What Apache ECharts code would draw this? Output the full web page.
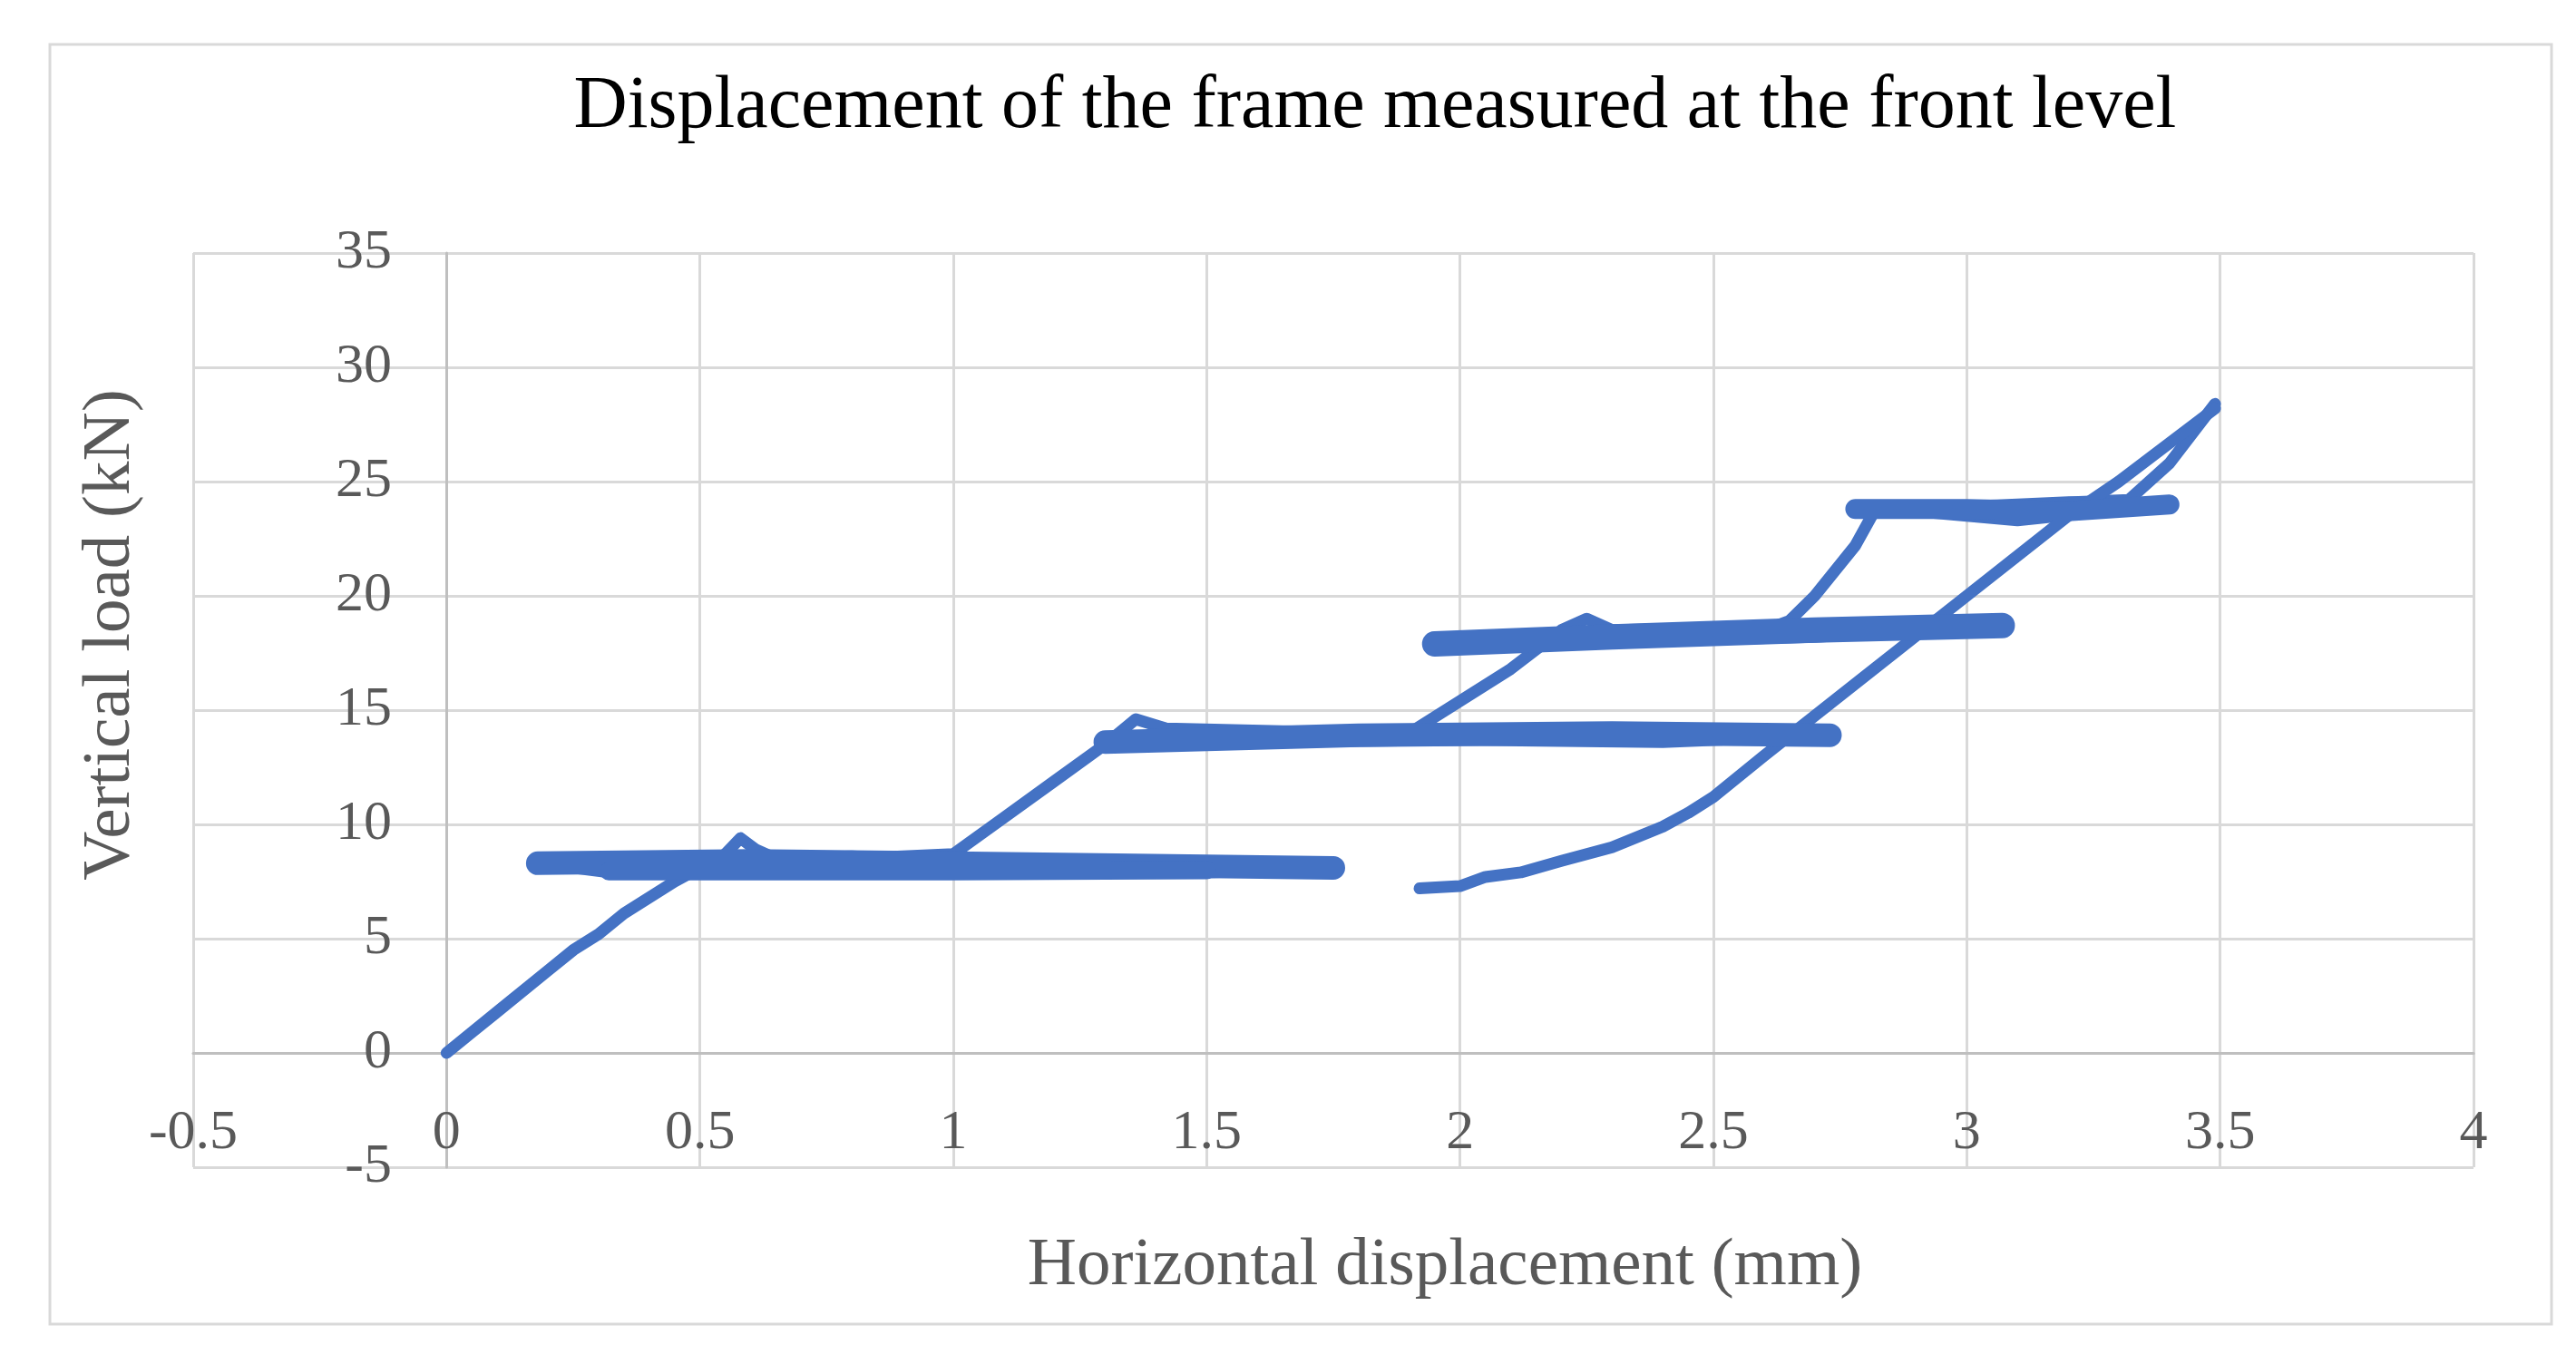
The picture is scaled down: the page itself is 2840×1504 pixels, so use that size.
<!DOCTYPE html><html><head><meta charset="utf-8">
<script src="https://cdn.jsdelivr.net/npm/echarts@6/dist/echarts.min.js"></script>
<style>html,body{margin:0;background:#fff}#c{width:2840px;height:1504px}</style></head><body><div id="c"></div>
<script>
const xTicks=[-0.5,0,0.5,1,1.5,2,2.5,3,3.5,4];
const yTicks=[-5,0,5,10,15,20,25,30,35];
// main load path [displacement mm, load kN]
const pathMain=[[0,0],[0.05,0.9],[0.1,1.8],[0.2,3.6],[0.25,4.5],[0.3,5.2],[0.35,6.1],[0.45,7.5],[0.55,8.7],[0.58,9.4],[0.61,8.9],[0.65,8.5],
[0.8,8.6],[1.0,8.4],[1.3,8.2],[1.5,8.1],[1.75,8.1],[1.5,7.9],[1.0,7.9],[0.6,7.9],[0.32,7.9],[0.18,8.3],[0.5,8.4],[0.8,8.5],[1.0,8.7],
[1.1,10.3],[1.2,11.9],[1.3,13.5],[1.36,14.6],[1.42,14.2],[1.8,14.0],[2.2,14.1],[2.5,14.0],[2.73,13.9],[2.4,13.6],[2.0,13.7],[1.6,13.6],[1.3,13.4],[1.45,14.0],[1.9,14.0],
[2.0,15.4],[2.1,16.8],[2.2,18.5],[2.25,19.0],[2.3,18.5],[2.6,18.6],[2.9,18.7],[3.07,18.7],[2.7,18.2],[2.3,18.0],[1.95,17.8],[2.2,18.2],[2.6,18.5],[2.65,18.9],
[2.7,20.0],[2.78,22.2],[2.82,23.8],[3.0,23.9],[3.2,24.1],[3.4,24.0],[3.1,23.3],[2.9,23.7],[2.78,23.7],[3.1,24.0],[3.32,24.2],[3.4,25.8],[3.49,28.4]];
// unloading path
const pathUnload=[[3.49,28.2],[3.3,25.0],[3.2,23.5],[3.0,20.0],[2.8,16.5],[2.6,13.0],[2.5,11.2],[2.45,10.5],[2.4,9.9],[2.3,9.0],[2.2,8.4],[2.12,7.9],[2.05,7.7],[2.0,7.3],[1.92,7.2]];
// thick noisy plateaus
const band1=[[0.18,8.3],[0.6,8.4],[1.0,8.3],[1.75,8.1]];
const band1b=[[0.32,7.95],[1.0,7.95],[1.5,8.0]];
const band2=[[1.3,13.6],[1.8,13.9],[2.3,14.0],[2.73,13.9]];
const band3=[[1.95,17.9],[2.3,18.2],[2.7,18.5],[3.07,18.7]];
const band4=[[2.78,23.8],[3.0,23.8],[3.2,23.7],[3.4,24.0]];
const C='#4472C4';
const F='"Liberation Serif","DejaVu Serif",serif';
const ch=echarts.init(document.getElementById('c'));
const line=(d,w)=>({type:'line',data:d,showSymbol:false,lineStyle:{color:C,width:w,cap:'round',join:'round'},itemStyle:{color:C},silent:true,animation:false,z:3});
ch.setOption({
 animation:false,
 grid:{left:213,right:113,top:279,bottom:217},
 graphic:[
  {type:'rect',shape:{x:55,y:49,width:2758,height:1411},style:{fill:'none',stroke:'#d9d9d9',lineWidth:3}},
  {type:'text',x:1516,y:118,style:{text:'Displacement of the frame measured at the front level',font:'82px '+F,fill:'#000',align:'center',verticalAlign:'middle'}},
  {type:'text',x:1593,y:1396,style:{text:'Horizontal displacement (mm)',font:'75px '+F,fill:'#595959',align:'center',verticalAlign:'middle'}},
  {type:'text',x:122,y:700,rotation:Math.PI/2,style:{text:'Vertical load (kN)',font:'75px '+F,fill:'#595959',align:'center',verticalAlign:'middle'}}
 ],
 xAxis:{type:'value',min:-0.5,max:4,interval:0.5,offset:-126,
  axisLine:{onZero:false,lineStyle:{color:'#bfbfbf',width:3}},axisTick:{show:false},
  axisLabel:{fontFamily:F,fontSize:62,color:'#595959',margin:58,formatter:v=>String(v)},
  splitLine:{lineStyle:{color:'#d9d9d9',width:3}}},
 yAxis:{type:'value',min:-5,max:35,interval:5,offset:-279,
  axisLine:{show:true,onZero:false,lineStyle:{color:'#bfbfbf',width:3}},axisTick:{show:false},
  axisLabel:{fontFamily:F,fontSize:62,color:'#595959',margin:60},
  splitLine:{lineStyle:{color:'#d9d9d9',width:3}}},
 series:[line(pathMain,13),line(pathUnload,13),line(band1,26),line(band1b,20),line(band2,26),line(band3,28),line(band4,22)]
});
</script></body></html>
